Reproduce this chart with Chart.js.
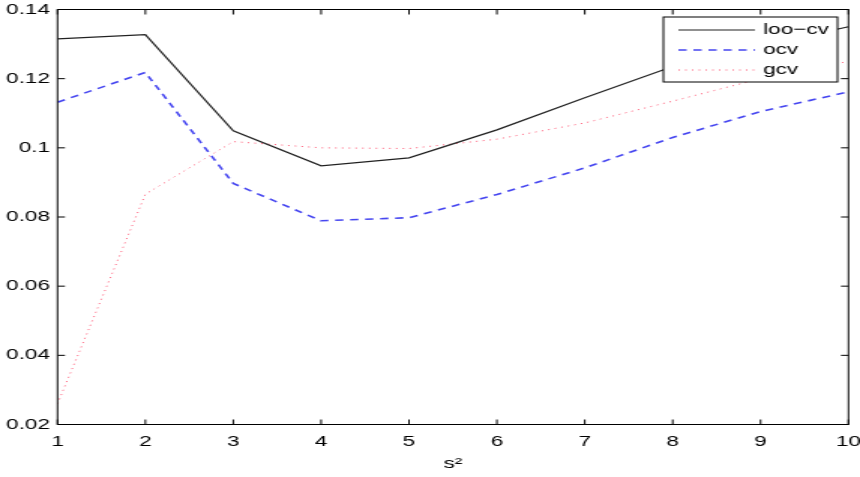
<!DOCTYPE html>
<html>
<head>
<meta charset="utf-8">
<script src="https://cdn.jsdelivr.net/npm/chart.js@4/dist/chart.umd.min.js"></script>
<style>
  body { margin: 0; background: #fff; }
</style>
</head>
<body>
<!-- the reference is stretched sideways, so the canvas is drawn narrow and widened by css -->
<canvas id="plot" width="573" height="477" style="width:860px;height:477px;display:block"></canvas>
<script>
const xValues = [1, 2, 3, 4, 5, 6, 7, 8, 9, 10]
const looCv = [0.1315, 0.1327, 0.1049, 0.0948, 0.0971, 0.1052, 0.1145, 0.1235, 0.1295, 0.1350]
const ocv = [0.1132, 0.1218, 0.0897, 0.0789, 0.0798, 0.0865, 0.0942, 0.1030, 0.1105, 0.1162]
const gcv = [0.0260, 0.0866, 0.1018, 0.1000, 0.0998, 0.1025, 0.1072, 0.1135, 0.1200, 0.1250]

const xTicks = [1, 2, 3, 4, 5, 6, 7, 8, 9, 10]
const xTickLabels = ['1', '2', '3', '4', '5', '6', '7', '8', '9', '10']
const yTicks = [0.02, 0.04, 0.06, 0.08, 0.1, 0.12, 0.14]
const yTickLabels = ['0.02', '0.04', '0.06', '0.08', '0.1', '0.12', '0.14']

const FONT = '"Liberation Sans", Arial, sans-serif'
Chart.defaults.font.family = FONT
Chart.defaults.color = '#000'

function toPoints(ys) {
    return xValues.map((x, i) => ({ x: x, y: ys[i] }))
}

// box round the axes with inward ticks on all four sides, matlab style
const boxTicks = {
    id: 'boxTicks',
    afterDraw(chart) {
        const ctx = chart.ctx
        const a = chart.chartArea
        const xs = chart.scales.x
        const ys = chart.scales.y
        ctx.save()
        ctx.strokeStyle = '#000'
        ctx.lineWidth = 1
        ctx.beginPath()
        xTicks.forEach(v => {
            const px = xs.getPixelForValue(v)
            ctx.moveTo(px, a.bottom); ctx.lineTo(px, a.bottom - 5)
            ctx.moveTo(px, a.top); ctx.lineTo(px, a.top + 5)
        })
        yTicks.forEach(v => {
            const py = ys.getPixelForValue(v)
            ctx.moveTo(a.left, py); ctx.lineTo(a.left + 5, py)
            ctx.moveTo(a.right, py); ctx.lineTo(a.right - 5, py)
        })
        ctx.stroke()
        ctx.strokeRect(a.left, a.top, a.right - a.left, a.bottom - a.top)
        ctx.restore()
    }
}

// legend box in the top right corner
const boxLegend = {
    id: 'boxLegend',
    afterDraw(chart) {
        const ctx = chart.ctx
        const x0 = 442, y0 = 17, w = 116, h = 65
        ctx.save()
        ctx.fillStyle = '#fff'
        ctx.fillRect(x0, y0, w, h)
        ctx.strokeStyle = '#000'
        ctx.lineWidth = 1
        ctx.strokeRect(x0, y0, w, h)
        chart.data.datasets.forEach((ds, i) => {
            const y = 30 + i * 20
            ctx.strokeStyle = ds.borderColor
            ctx.lineWidth = ds.borderWidth
            ctx.setLineDash(ds.borderDash || [])
            ctx.beginPath()
            ctx.moveTo(452, y)
            ctx.lineTo(503, y)
            ctx.stroke()
            ctx.setLineDash([])
            ctx.fillStyle = '#000'
            ctx.font = '15px ' + FONT
            ctx.textAlign = 'left'
            ctx.textBaseline = 'middle'
            ctx.fillText(ds.label, 508.5, y)
        })
        ctx.restore()
    }
}

const ctx = document.getElementById('plot')

new Chart(ctx, {
    type: 'line',
    data: {
        datasets: [{
            label: 'loo\u2212cv',
            data: toPoints(looCv),
            borderColor: '#222',
            borderWidth: 1.2,
            pointRadius: 0
        }, {
            label: 'ocv',
            data: toPoints(ocv),
            borderColor: '#4646f0',
            borderWidth: 1.6,
            borderDash: [5.5, 4.5],
            pointRadius: 0
        }, {
            label: 'gcv',
            data: toPoints(gcv),
            borderColor: '#ff5c78',
            borderWidth: 1,
            borderDash: [1, 3.5],
            pointRadius: 0
        }]
    },
    options: {
        responsive: false,
        devicePixelRatio: 1,
        animation: false,
        layout: { padding: { top: 9.5, right: 7.7, left: 0, bottom: 0 } },
        plugins: {
            legend: { display: false },
            tooltip: { enabled: false }
        },
        scales: {
            x: {
                type: 'linear',
                min: 1,
                max: 10,
                grid: { display: false, drawTicks: false },
                border: { display: false },
                afterBuildTicks: scale => { scale.ticks = xTicks.map(v => ({ value: v })) },
                afterFit: scale => {
                    scale.height = 52.5
                    scale.paddingLeft = 0
                    scale.paddingRight = 0
                },
                ticks: {
                    padding: 8,
                    maxRotation: 0,
                    font: { size: 15 },
                    callback: (v, i) => xTickLabels[i]
                },
                title: {
                    display: true,
                    text: 's\u00b2',
                    font: { size: 15 },
                    padding: { top: 0, bottom: 4 }
                }
            },
            y: {
                min: 0.02,
                max: 0.14,
                grid: { display: false, drawTicks: false },
                border: { display: false },
                afterBuildTicks: scale => { scale.ticks = yTicks.map(v => ({ value: v })) },
                afterFit: scale => {
                    scale.width = 38.3
                    scale.paddingTop = 0
                    scale.paddingBottom = 0
                },
                ticks: {
                    padding: 5,
                    font: { size: 15 },
                    callback: (v, i) => yTickLabels[i]
                }
            }
        }
    },
    plugins: [boxTicks, boxLegend]
})
</script>
</body>
</html>
